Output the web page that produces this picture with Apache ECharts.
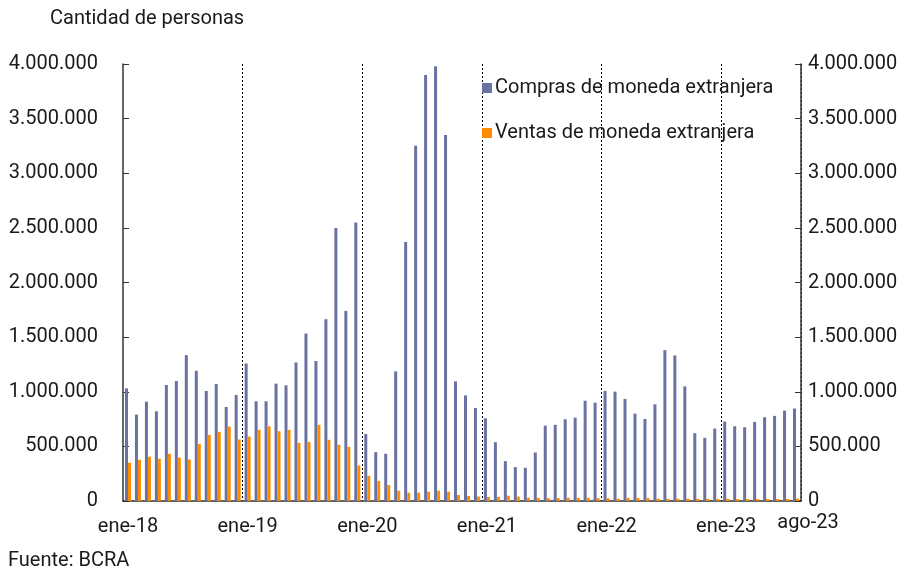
<!DOCTYPE html>
<html>
<head>
<meta charset="utf-8">
<script src="https://cdn.jsdelivr.net/npm/echarts@6/dist/echarts.min.js"></script>
<style>
html, body { margin: 0; padding: 0; background: #fff; }
#chart { width: 911px; height: 569px; }
</style>
</head>
<body>
<div id="chart"></div>
<script>
// meses ene-18 .. ago-23
const monthNames = ['ene', 'feb', 'mar', 'abr', 'may', 'jun', 'jul', 'ago', 'sep', 'oct', 'nov', 'dic'];
const years = ['18', '19', '20', '21', '22', '23'];
const categories = [];
years.forEach(y => monthNames.forEach(m => categories.push(m + '-' + y)));
categories.length = 68;

const compras = [
  1031000, 791000, 909000, 821000, 1062000, 1098000, 1335000, 1192000, 1007000, 1071000, 861000, 970000,
  1259000, 913000, 913000, 1074000, 1059000, 1268000, 1533000, 1281000, 1664000, 2500000, 1740000, 2549000,
  614000, 447000, 432000, 1186000, 2370000, 3252000, 3900000, 3979000, 3349000, 1095000, 967000, 852000,
  757000, 538000, 365000, 310000, 304000, 444000, 690000, 697000, 748000, 763000, 918000, 900000,
  1008000, 1001000, 934000, 800000, 751000, 885000, 1381000, 1332000, 1049000, 621000, 578000, 663000,
  727000, 684000, 675000, 724000, 767000, 779000, 827000, 846000
];
const ventas = [
  350000, 377000, 405000, 386000, 432000, 398000, 380000, 523000, 605000, 633000, 681000, 563000,
  590000, 651000, 684000, 639000, 651000, 532000, 541000, 697000, 560000, 514000, 496000, 325000,
  231000, 183000, 146000, 94000, 76000, 76000, 85000, 94000, 85000, 55000, 46000, 40000,
  37000, 37000, 49000, 40000, 30000, 30000, 27000, 27000, 30000, 30000, 30000, 27000,
  25000, 22000, 28000, 28000, 28000, 22000, 20000, 22000, 22000, 20000, 20000, 18000,
  20000, 18000, 18000, 18000, 18000, 18000, 18000, 22000
];

const FONT = 'Roboto';
const FS = 20;
const TXT = '#1a1a1a';
function fmt(v) {
  return String(v).replace(/\B(?=(\d{3})+(?!\d))/g, '.');
}

const chart = echarts.init(document.getElementById('chart'));
chart.setOption({
  animation: false,
  backgroundColor: '#fff',
  textStyle: { fontFamily: FONT, color: TXT },
  graphic: [
    { type: 'text', left: 50, top: 9, style: { text: 'Cantidad de personas', font: FS + 'px Roboto', fill: TXT } },
    { type: 'text', left: 8, top: 551, style: { text: 'Fuente: BCRA', font: FS + 'px Roboto', fill: TXT } }
  ],
  legend: {
    orient: 'vertical',
    left: 477,
    top: 73,
    itemWidth: 10,
    itemHeight: 10,
    itemGap: 25,
    icon: 'rect',
    textStyle: { fontFamily: FONT, fontSize: FS, color: TXT, padding: [0, 0, 0, -2] },
    data: ['Compras de moneda extranjera', 'Ventas de moneda extranjera']
  },
  grid: { left: 123, right: 110, top: 64, bottom: 68 },
  xAxis: {
    type: 'category',
    data: categories,
    axisLine: { lineStyle: { color: '#333', width: 1.5 } },
    axisTick: { show: false },
    axisLabel: {
      interval: 0,
      margin: 12,
      formatter: (v, i) => {
        if (i === categories.length - 1) return '{b|' + v + '}';
        if (i % 12 === 0) return '{a|' + v + '}';
        return '';
      },
      rich: {
        a: { fontFamily: FONT, fontSize: FS, color: TXT, padding: [4, 0, 0, 0] },
        b: { fontFamily: FONT, fontSize: FS, color: TXT, padding: [0, 0, 0, 24] }
      }
    },
    splitLine: {
      show: true,
      interval: (i) => i > 0 && i % 12 === 0,
      lineStyle: { color: '#000', type: [2, 2], width: 1 }
    }
  },
  yAxis: [
    {
      type: 'value', min: 0, max: 4000000, interval: 500000,
      axisLine: { show: true, lineStyle: { color: '#333', width: 1.5 } },
      axisTick: { show: true, inside: true, length: 6, lineStyle: { color: '#333' } },
      axisLabel: { margin: 25, fontFamily: FONT, fontSize: FS, color: TXT, formatter: fmt },
      splitLine: { show: false }
    },
    {
      type: 'value', min: 0, max: 4000000, interval: 500000, position: 'right',
      axisLine: { show: true, lineStyle: { color: '#333', width: 1.5 } },
      axisTick: { show: true, inside: true, length: 6, lineStyle: { color: '#333' } },
      axisLabel: { margin: 7, fontFamily: FONT, fontSize: FS, color: TXT, formatter: fmt },
      splitLine: { show: false }
    }
  ],
  series: [
    {
      name: 'Compras de moneda extranjera',
      type: 'bar',
      data: compras,
      barWidth: 3,
      barGap: '0%',
      itemStyle: { color: '#6a72a2' }
    },
    {
      name: 'Ventas de moneda extranjera',
      type: 'bar',
      data: ventas,
      barWidth: 3,
      itemStyle: { color: '#ff8c00' }
    }
  ]
});
</script>
</body>
</html>
